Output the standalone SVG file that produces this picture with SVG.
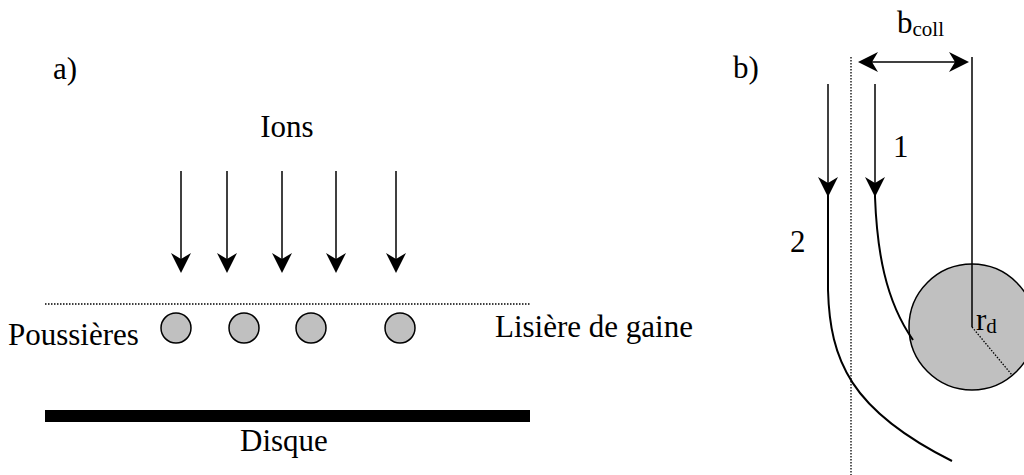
<svg xmlns="http://www.w3.org/2000/svg" width="1024" height="475" viewBox="0 0 1024 475">
<style>
.t{font-family:"Liberation Serif","Times New Roman",serif;font-size:31px;fill:#000}
.sub{font-size:21px}
.ln{stroke:#000;stroke-width:1.5;fill:none}
.cv{stroke:#000;stroke-width:2;fill:none}
.dot{stroke:#000;stroke-width:1.3;stroke-dasharray:1.5 1.5;fill:none}
.dust{fill:#c0c0c0;stroke:#000;stroke-width:1.5}
.arr{marker-end:url(#ah)}
</style>
<defs>
<marker id="ah" markerUnits="userSpaceOnUse" markerWidth="20" markerHeight="20" viewBox="0 0 20 20" refX="14" refY="10" orient="auto-start-reverse">
<path d="M0,0 L20,10 L0,20 L6,10 z" fill="#000"/>
</marker>
</defs>
<rect width="1024" height="475" fill="#fff"/>
<g id="panel-a">
<text id="label-a" class="t" x="53" y="79">a)</text>
<text id="label-ions" class="t" x="287" y="137" text-anchor="middle">Ions</text>
<line id="sheath-edge" class="dot" x1="45" y1="304" x2="530" y2="304"/>
<g id="dust-grains">
<circle class="dust" cx="176" cy="328" r="15"/>
<circle class="dust" cx="244" cy="328" r="15"/>
<circle class="dust" cx="311" cy="328" r="15"/>
<circle class="dust" cx="400" cy="328" r="15"/>
</g>
<text id="label-poussieres" class="t" x="8" y="345">Poussières</text>
<text id="label-lisiere" class="t" x="495" y="337">Lisière de gaine</text>
<rect id="disque" x="45" y="410" width="485" height="12" fill="#000"/>
<text id="label-disque" class="t" x="240" y="451">Disque</text>
</g>
<g id="connectors">
<line class="ln arr" x1="181" y1="171" x2="181" y2="267"/>
<line class="ln arr" x1="227" y1="171" x2="227" y2="267"/>
<line class="ln arr" x1="282" y1="171" x2="282" y2="267"/>
<line class="ln arr" x1="336" y1="171" x2="336" y2="267"/>
<line class="ln arr" x1="396" y1="171" x2="396" y2="267"/>
<line class="ln arr" x1="828" y1="84" x2="828" y2="191"/>
<line class="ln arr" x1="875" y1="84" x2="875" y2="191"/>
<line class="ln" x1="864" y1="62" x2="963" y2="62" marker-start="url(#ah)" marker-end="url(#ah)"/>
</g>
<g id="panel-b">
<text id="label-b" class="t" x="733" y="78">b)</text>
<text id="label-bcoll" class="t" x="897" y="33">b<tspan class="sub" dy="3">coll</tspan></text>
<line id="collision-limit" class="dot" x1="851" y1="57" x2="851" y2="475"/>
<g id="grain">
<circle class="dust" cx="972" cy="327" r="63"/>
<line class="ln" x1="972" y1="57" x2="972" y2="327"/>
<line class="dot" x1="972" y1="327" x2="1012" y2="375"/>
<text id="label-rd" class="t" x="976" y="330">r<tspan class="sub" dy="3">d</tspan></text>
</g>
<path id="trajectory-1" class="cv" d="M875,190 L875,197 C877,250 885,300 913,340"/>
<path id="trajectory-2" class="cv" d="M828,190 L828,290 C830,360 850,410 952,461"/>
<text id="label-1" class="t" x="893" y="157">1</text>
<text id="label-2" class="t" x="790" y="252">2</text>
</g>
</svg>
